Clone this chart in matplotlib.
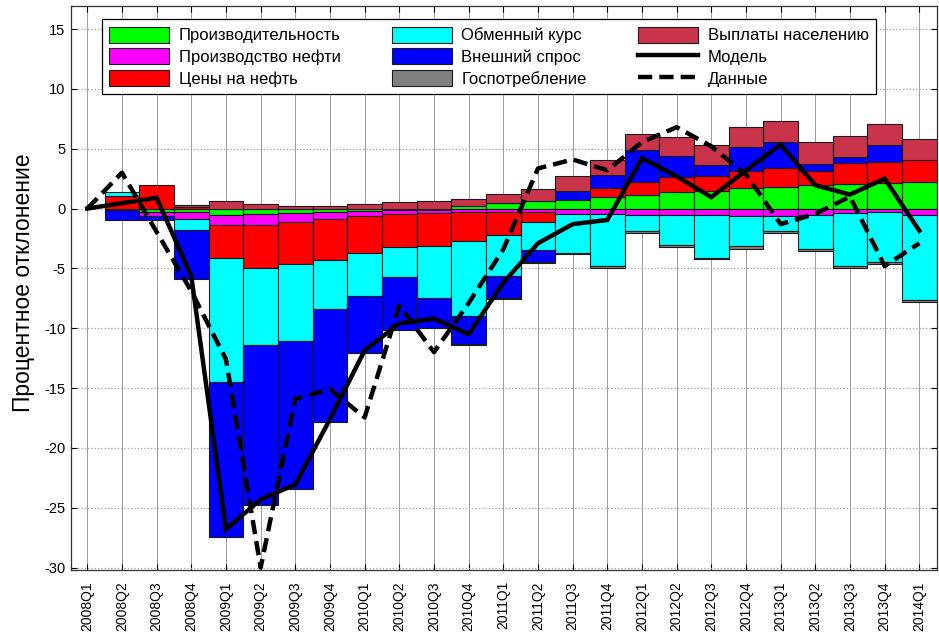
import matplotlib
matplotlib.use('Agg')
import matplotlib.pyplot as plt
import matplotlib.patches as mpatches
from matplotlib.lines import Line2D
import numpy as np

plt.rcParams.update({
    'font.family':        ['Liberation Sans', 'DejaVu Sans'],
    'axes.unicode_minus': False,
    'xtick.direction':    'in',
    'ytick.direction':    'in',
    'xtick.top':          True,
    'ytick.right':        True,
})

quarters = ['2008Q1', '2008Q2', '2008Q3', '2008Q4',
            '2009Q1', '2009Q2', '2009Q3', '2009Q4',
            '2010Q1', '2010Q2', '2010Q3', '2010Q4',
            '2011Q1', '2011Q2', '2011Q3', '2011Q4',
            '2012Q1', '2012Q2', '2012Q3', '2012Q4',
            '2013Q1', '2013Q2', '2013Q3', '2013Q4',
            '2014Q1']

productivity = [0, 0, -0.28, -0.30, -0.50, -0.45, -0.36, -0.30, -0.17, -0.15, -0.10, 0.20,
                0.45, 0.65, 0.75, 0.97, 1.10, 1.40, 1.45, 1.72, 1.80, 2.00, 2.06, 2.14, 2.22]
oil_output   = [0, -0.15, -0.36, -0.60, -0.84, -0.90, -0.78, -0.54, -0.42, -0.33, -0.25, -0.25,
                -0.25, -0.25, -0.45, -0.45, -0.50, -0.55, -0.55, -0.64, -0.64, -0.50, -0.36, -0.30, -0.55]
oil_prices   = [0, 1.05, 1.95, 0.10, -2.79, -3.65, -3.46, -3.43, -3.13, -2.72, -2.75, -2.48,
                -1.95, -0.90, 0, 0.75, 1.10, 1.25, 1.30, 1.45, 1.60, 1.17, 1.75, 1.75, 1.80]
exch_rate    = [0, 0.37, 0, -0.86, -10.37, -6.40, -6.45, -4.13, -3.60, -2.52, -4.35, -6.22,
                -3.45, -2.33, -3.30, -4.35, -1.35, -2.50, -3.55, -2.50, -1.20, -2.86, -4.41, -4.14, -7.05]
ext_demand   = [0, -0.77, -0.28, -4.10, -12.90, -13.40, -12.35, -9.45, -4.78, -4.43, -2.50, -2.40,
                -1.80, -0.97, 0.70, 1.10, 2.70, 1.78, 0.92, 1.95, 2.20, 0.55, 0.47, 1.45, 0]
gov_cons     = [0, 0, 0, 0, 0, 0, 0, 0, 0, 0, 0, -0.08,
                -0.08, -0.08, -0.08, -0.15, -0.15, -0.15, -0.15, -0.20, -0.18, -0.20, -0.18, -0.16, -0.20]
payments     = [0, 0, 0, 0.20, 0.65, 0.40, 0.25, 0.20, 0.42, 0.55, 0.60, 0.63,
                0.80, 0.95, 1.25, 1.20, 1.35, 1.53, 1.60, 1.70, 1.75, 1.80, 1.75, 1.75, 1.80]

model = [0, 0.45, 0.90, -5.65, -26.8, -24.3, -23.05, -17.6, -11.85, -9.6, -9.2, -10.5,
         -6.2, -2.9, -1.3, -0.95, 4.2, 2.7, 0.95, 3.2, 5.35, 1.95, 1.17, 2.5, -1.85]
data  = [0, 3.0, -1.95, -6.9, -12.6, -30.0, -15.9, -15.1, -17.45, -8.1, -12.0, -7.9,
         -3.4, 3.35, 4.1, 3.2, 5.55, 6.8, 5.2, 2.85, -1.3, -0.45, 1.0, -4.8, -2.9]

components = [
    ('Производительность', productivity, '#00FF00'),
    ('Производство нефти', oil_output,   '#FF00FF'),
    ('Цены на нефть',      oil_prices,   '#FF0000'),
    ('Обменный курс',      exch_rate,    '#00FFFF'),
    ('Внешний спрос',      ext_demand,   '#0000FF'),
    ('Госпотребление',     gov_cons,     '#808080'),
    ('Выплаты населению',  payments,     '#C9344A'),
]

fig = plt.figure(figsize=(9.39, 6.33), dpi=100)
ax = fig.add_axes([0.0756, 0.0995, 0.9223, 0.8915])
ax.set_axisbelow(True)

# stacked bars: positives pile up from zero, negatives pile down
x = np.arange(len(quarters))
pos = np.zeros(len(x))
neg = np.zeros(len(x))
for name, vals, col in components:
    v = np.array(vals, dtype=float)
    for mask, base in ((v > 0, pos), (v < 0, neg)):
        if mask.any():
            ax.bar(x[mask], v[mask], bottom=base[mask], width=1.0,
                   color=col, edgecolor='#1a1a1a', linewidth=0.8)
    pos += np.where(v > 0, v, 0)
    neg += np.where(v < 0, v, 0)

ax.plot(x, model, color='black', lw=3.2, solid_joinstyle='miter')
ax.plot(x, data, color='black', lw=3.2, linestyle=(0, (3.2, 1.6)))

ax.set_xlim(-0.47, 24.51)
ax.set_ylim(-30.2, 16.95)
ax.set_yticks(np.arange(-30, 16, 5))
ax.set_xticks(x)
ax.set_xticklabels(quarters, rotation=90, fontsize=10)
ax.tick_params(axis='y', labelsize=10.5, pad=4, length=4)
ax.tick_params(axis='x', pad=8, length=4)

ax.xaxis.grid(True, color='#8c8c8c', linestyle='-', linewidth=0.6)
ax.yaxis.grid(True, color='#a0a0a0', linestyle=':', linewidth=0.9)
for s in ax.spines.values():
    s.set_color('#333333')
    s.set_linewidth(0.9)

ax.set_ylabel('Процентное отклонение', fontsize=16.5)
ax.yaxis.set_label_coords(-0.041, 0.51)

handles = [mpatches.Patch(facecolor=c, edgecolor='#1a1a1a', linewidth=0.8, label=n)
           for n, _, c in components]
handles.append(Line2D([], [], color='black', lw=3.2, label='Модель'))
handles.append(Line2D([], [], color='black', lw=3.2, linestyle=(0, (3.2, 1.6)), label='Данные'))

leg = ax.legend(handles=handles, ncol=3, loc='upper left',
                bbox_to_anchor=(0.0358, 0.9764, 0.8938, 0.0), mode='expand',
                borderaxespad=0, fontsize=12, frameon=True, fancybox=False,
                framealpha=1, edgecolor='black', handlelength=3.6,
                handleheight=1.1, handletextpad=0.55, labelspacing=0.3,
                borderpad=0.45)
leg.get_frame().set_linewidth(0.9)

fig.savefig('out.png', dpi=100)
